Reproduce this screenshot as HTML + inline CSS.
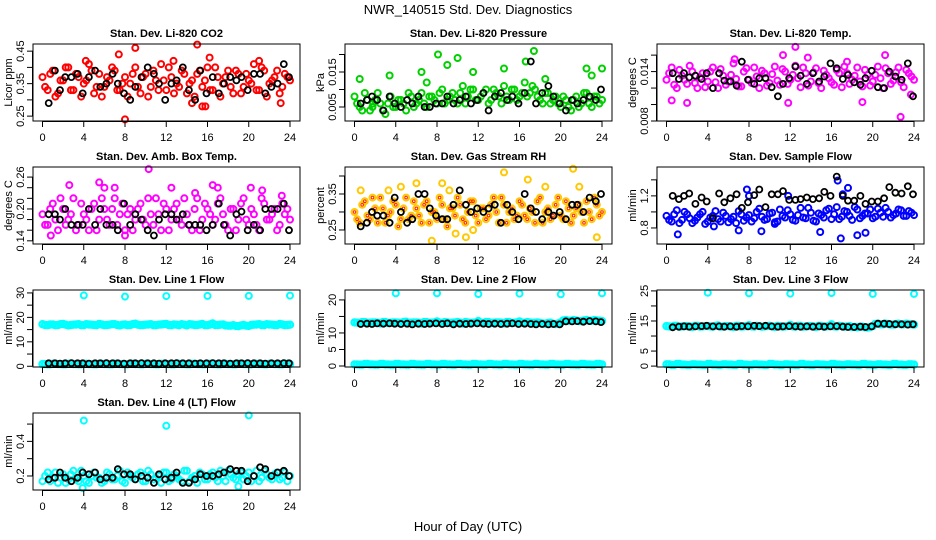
<!DOCTYPE html>
<html><head><meta charset="utf-8"><style>
body{margin:0;background:#fff;}
svg{display:block;font-family:"Liberation Sans",Arial,sans-serif;}
</style></head><body>
<svg id="c" width="936" height="540" viewBox="0 0 936 540" xmlns="http://www.w3.org/2000/svg">
<rect width="936" height="540" fill="#fff"/>
<text x="468" y="14" font-size="13" text-anchor="middle">NWR_140515  Std. Dev. Diagnostics</text>
<text x="468" y="531" font-size="13" text-anchor="middle">Hour of Day (UTC)</text>
</svg>
<script>
const H49=[0,0.5,1,1.5,2,2.5,3,3.5,4,4.5,5,5.5,6,6.5,7,7.5,8,8.5,9,9.5,10,10.5,11,11.5,12,12.5,13,13.5,14,14.5,15,15.5,16,16.5,17,17.5,18,18.5,19,19.5,20,20.5,21,21.5,22,22.5,23,23.5,24];
const H48=[0.25,0.75,1.25,1.75,2.25,2.75,3.25,3.75,4.25,4.75,5.25,5.75,6.25,6.75,7.25,7.75,8.25,8.75,9.25,9.75,10.25,10.75,11.25,11.75,12.25,12.75,13.25,13.75,14.25,14.75,15.25,15.75,16.25,16.75,17.25,17.75,18.25,18.75,19.25,19.75,20.25,20.75,21.25,21.75,22.25,22.75,23.25,23.75];
const BH=[0.6,1.2,1.7,2.2,2.8,3.4,3.9,4.5,5.1,5.6,6.2,6.8,7.3,7.9,8.5,9.0,9.6,10.2,10.8,11.3,11.9,12.5,13.0,13.6,14.2,14.8,15.3,15.9,16.5,17.1,17.6,18.2,18.8,19.3,19.9,20.5,21.1,21.6,22.2,22.8,23.4,23.9];
const xTicks=[0,4,8,12,16,20,24];

const co2=[0.37,0.33,0.39,0.32,0.36,0.40,0.33,0.37,0.35,0.41,0.32,0.38,0.34,0.36,0.39,0.33,0.37,0.35,0.40,0.32,0.38,0.34,0.36,0.41,0.33,0.37,0.35,0.39,0.32,0.36,0.38,0.34,0.40,0.33,0.37,0.35,0.39,0.32,0.38,0.34,0.36,0.41,0.33,0.39,0.35,0.37,0.32,0.38,0.36];
const co2b=[0.34,0.38,0.31,0.36,0.40,0.33,0.38,0.31,0.36,0.39,0.34,0.31,0.37,0.40,0.33,0.35,0.31,0.38,0.34,0.37,0.31,0.39,0.33,0.36,0.40,0.32,0.34,0.38,0.35,0.31,0.39,0.36,0.33,0.40,0.31,0.37,0.34,0.39,0.32,0.38,0.35,0.33,0.40,0.31,0.36,0.39,0.34,0.37];
const co2OutH=[7.4,9,8,15,15.8,16.2,15.5,4.2,21,12.7,14.5,23.1];
const co2Out=[0.44,0.46,0.24,0.47,0.28,0.43,0.28,0.42,0.42,0.42,0.29,0.29];
const co2Blk=[0.29,0.39,0.33,0.37,0.37,0.38,0.32,0.37,0.39,0.34,0.35,0.38,0.35,0.32,0.30,0.34,0.37,0.40,0.38,0.35,0.30,0.35,0.36,0.40,0.33,0.30,0.39,0.32,0.37,0.32,0.35,0.37,0.36,0.37,0.33,0.38,0.38,0.32,0.34,0.35,0.41,0.37];

const pres=[0.008,0.005,0.009,0.004,0.007,0.006,0.003,0.008,0.005,0.007,0.004,0.008,0.006,0.009,0.005,0.008,0.006,0.010,0.007,0.009,0.006,0.011,0.008,0.010,0.007,0.009,0.006,0.010,0.008,0.011,0.007,0.010,0.008,0.012,0.009,0.010,0.007,0.009,0.006,0.008,0.005,0.007,0.004,0.008,0.006,0.009,0.005,0.008,0.007];
const presb=[0.006,0.004,0.007,0.005,0.009,0.004,0.006,0.005,0.007,0.006,0.009,0.005,0.007,0.006,0.008,0.007,0.009,0.006,0.008,0.007,0.009,0.006,0.010,0.007,0.008,0.010,0.007,0.009,0.006,0.008,0.010,0.007,0.009,0.008,0.011,0.008,0.006,0.009,0.007,0.006,0.008,0.005,0.007,0.005,0.009,0.006,0.008,0.006];
const presOutH=[0.5,3.4,7.0,8.1,9.0,10.0,11.5,14.5,16.6,17.4,22.5,24,23,18.5,6.5,1.8];
const presOut=[0.013,0.014,0.012,0.020,0.017,0.019,0.015,0.016,0.018,0.021,0.016,0.016,0.014,0.013,0.015,0.006];
const presBlk=[0.006,0.007,0.008,0.007,0.004,0.008,0.006,0.005,0.007,0.006,0.008,0.005,0.005,0.006,0.006,0.008,0.006,0.007,0.008,0.006,0.007,0.009,0.004,0.008,0.009,0.007,0.008,0.006,0.009,0.018,0.006,0.009,0.011,0.008,0.006,0.004,0.007,0.006,0.007,0.008,0.007,0.010];

const tmp=[0.013,0.0145,0.012,0.0135,0.0125,0.014,0.012,0.0138,0.0128,0.0145,0.012,0.0135,0.0128,0.015,0.0122,0.014,0.013,0.0145,0.012,0.0138,0.0126,0.0146,0.0124,0.014,0.013,0.0147,0.0121,0.0138,0.0128,0.0144,0.012,0.0136,0.0127,0.0142,0.0121,0.0138,0.013,0.0145,0.0122,0.0136,0.0128,0.0146,0.012,0.0138,0.0129,0.0145,0.0121,0.0138,0.013];
const tmpb=[0.0138,0.0124,0.0142,0.0130,0.0147,0.0126,0.0133,0.0121,0.0140,0.0127,0.0143,0.0124,0.0136,0.0131,0.0122,0.0144,0.0126,0.0134,0.0141,0.0123,0.0137,0.0129,0.0143,0.0125,0.0136,0.0132,0.0145,0.0123,0.0139,0.0126,0.0141,0.0132,0.0124,0.0138,0.0146,0.0125,0.0135,0.0128,0.0142,0.0123,0.0136,0.0132,0.0144,0.0125,0.0139,0.0127,0.0142,0.0134];
const tmpOutH=[0.5,2.0,6.6,11.3,11.8,13.7,12.5,21.2,17.5,22.7,23.7,19.0];
const tmpOut=[0.0105,0.0102,0.0155,0.016,0.0102,0.0157,0.0170,0.0160,0.0152,0.0085,0.0112,0.0103];
const tmpBlk=[0.0138,0.0131,0.0138,0.0133,0.0135,0.0131,0.0138,0.0120,0.0138,0.0129,0.0128,0.0123,0.0152,0.0130,0.0125,0.0132,0.0132,0.0121,0.0110,0.0125,0.0132,0.0146,0.0135,0.0125,0.0138,0.0128,0.0134,0.0150,0.0144,0.0131,0.0136,0.0127,0.0124,0.0132,0.0141,0.0121,0.0120,0.0140,0.0134,0.0130,0.0150,0.0110];

const amb=[0.19,0.17,0.21,0.16,0.20,0.18,0.22,0.17,0.19,0.16,0.21,0.18,0.20,0.17,0.22,0.19,0.16,0.20,0.18,0.21,0.17,0.19,0.22,0.16,0.20,0.18,0.21,0.17,0.19,0.16,0.22,0.18,0.20,0.17,0.21,0.19,0.16,0.20,0.18,0.22,0.17,0.19,0.16,0.21,0.18,0.20,0.17,0.19,0.18];
const ambb=[0.17,0.20,0.18,0.22,0.17,0.19,0.16,0.21,0.18,0.20,0.16,0.22,0.18,0.20,0.17,0.21,0.19,0.16,0.20,0.18,0.22,0.17,0.19,0.21,0.16,0.20,0.18,0.22,0.17,0.20,0.16,0.21,0.19,0.18,0.22,0.17,0.20,0.16,0.21,0.18,0.20,0.17,0.22,0.18,0.19,0.16,0.21,0.20];
const ambOutH=[2.6,5.5,6.0,7.0,10.3,12.5,14.8,16.5,17.0,20.2,21.3,23.2,8.0,0.8];
const ambOut=[0.245,0.25,0.24,0.24,0.275,0.24,0.23,0.245,0.24,0.24,0.235,0.225,0.15,0.15];
const ambBlk=[0.19,0.19,0.18,0.20,0.17,0.17,0.17,0.20,0.17,0.20,0.17,0.17,0.16,0.21,0.17,0.19,0.18,0.16,0.15,0.18,0.19,0.19,0.18,0.19,0.17,0.17,0.17,0.16,0.17,0.21,0.17,0.15,0.19,0.195,0.16,0.17,0.16,0.20,0.20,0.20,0.21,0.16];

const rh=[0.30,0.27,0.33,0.28,0.31,0.34,0.27,0.30,0.32,0.28,0.34,0.29,0.31,0.27,0.33,0.30,0.28,0.32,0.26,0.31,0.34,0.28,0.30,0.33,0.27,0.31,0.29,0.34,0.27,0.32,0.30,0.28,0.33,0.29,0.31,0.27,0.34,0.30,0.28,0.32,0.29,0.33,0.27,0.31,0.30,0.33,0.28,0.32,0.30];
const rhb=[0.28,0.32,0.29,0.34,0.27,0.31,0.29,0.33,0.26,0.31,0.28,0.33,0.29,0.32,0.27,0.30,0.34,0.28,0.31,0.29,0.32,0.27,0.33,0.29,0.31,0.28,0.32,0.30,0.34,0.27,0.31,0.29,0.32,0.28,0.30,0.33,0.27,0.31,0.29,0.34,0.28,0.31,0.29,0.32,0.27,0.30,0.34,0.29];
const rhOutH=[0.6,3.3,4.5,6.0,8.5,7.5,9.2,10.8,11.5,14.5,16.8,18.5,21.2,21.8,23.5,9.8];
const rhOut=[0.36,0.36,0.37,0.38,0.38,0.22,0.36,0.23,0.25,0.41,0.39,0.37,0.42,0.37,0.23,0.24];
const rhBlk=[0.26,0.27,0.30,0.29,0.29,0.27,0.34,0.30,0.27,0.28,0.35,0.35,0.31,0.29,0.28,0.28,0.32,0.36,0.32,0.30,0.31,0.30,0.31,0.32,0.27,0.32,0.30,0.28,0.35,0.31,0.30,0.28,0.30,0.29,0.30,0.28,0.32,0.32,0.30,0.34,0.33,0.35];

const sf=[0.95,0.88,1.02,0.90,0.97,0.86,0.93,1.00,0.88,0.95,0.91,0.99,0.87,0.94,1.01,0.89,0.96,0.92,1.04,0.90,0.98,0.87,1.03,0.93,0.97,0.89,1.05,0.92,0.99,0.88,0.96,1.02,0.91,1.06,0.94,1.00,0.90,1.03,0.95,0.98,0.92,1.04,0.94,1.00,0.96,1.03,0.95,1.01,0.96];
const sfb=[0.90,0.97,0.86,1.00,0.92,0.89,0.97,0.85,0.93,1.01,0.88,0.95,0.91,0.86,0.97,0.93,0.88,1.00,0.94,0.91,0.99,0.88,0.95,1.02,0.90,0.96,0.93,1.05,0.89,0.98,0.93,1.04,0.97,0.91,1.01,0.95,1.06,0.92,0.98,1.03,0.94,0.99,1.05,0.93,0.98,1.02,0.95,0.99];
const sfOutH=[1.1,4.6,7.8,8.0,9.2,10.5,14.9,16.6,17.1,16.9,17.6,18.5,19.3,7.0,11.8];
const sfOut=[0.72,0.82,1.28,1.20,0.76,0.85,0.75,1.39,1.22,0.67,1.30,0.71,0.74,0.77,1.20];
const sfBlk=[1.20,1.16,1.20,1.23,1.10,1.18,1.13,0.92,1.23,1.12,1.17,1.22,1.05,1.12,1.21,1.28,1.06,1.22,1.22,1.26,1.15,1.15,1.16,1.18,1.16,1.17,1.25,1.20,1.44,1.20,1.14,1.14,1.20,1.10,1.13,1.13,1.17,1.31,1.24,1.23,1.32,1.22];

const l1=[17.2,16.8,17.1,16.9,17.3,16.7,17.0,17.2,16.8,17.1,16.9,17.3,16.8,17.0,17.2,16.7,17.1,16.9,17.4,16.8,17.0,17.2,16.8,17.1,17.3,16.8,17.0,17.2,16.7,17.1,16.9,17.3,16.8,17.5,16.9,17.1,16.6,16.8,16.4,16.9,16.5,17.0,17.2,16.8,17.1,16.9,17.3,16.8,17.0];
const l1b=[16.9,17.1,16.8,17.2,17.0,16.9,17.1,16.8,17.2,17.0,16.8,17.1,16.9,17.2,16.9,17.0,16.8,17.2,17.0,16.9,17.1,16.8,17.0,17.2,16.9,17.1,16.8,17.0,17.2,16.9,17.1,16.8,17.1,16.9,17.0,16.7,16.6,16.5,16.7,16.6,16.9,17.1,16.9,17.2,17.0,16.8,17.1,16.9];
const l1Low=[0.9,0.8,1.0,0.9,0.8,1.0,0.9,0.8,1.0,0.9,0.8,1.0,0.9,0.8,1.0,0.9,0.8,1.0,0.9,0.8,1.0,0.9,0.8,1.0,0.9,0.8,1.0,0.9,0.8,1.0,0.9,0.8,1.0,0.9,0.8,1.0,0.9,0.8,1.0,0.9,0.8,1.0,0.9,0.8,1.0,0.9,0.8,1.0,0.9];
const l1OutH=[4,8,12,16,20,24];
const l1Out=[29,28.5,28.7,28.8,28.8,28.9];
const l1Blk=[1.2,1.2,1.1,1.2,1.3,1.2,1.2,1.1,1.2,1.2,1.3,1.2,1.2,1.1,1.2,1.2,1.3,1.2,1.2,1.1,1.2,1.2,1.3,1.2,1.2,1.1,1.2,1.2,1.3,1.2,1.2,1.1,1.2,1.2,1.3,1.2,1.2,1.1,1.2,1.2,1.3,1.2];

const l2=[13.2,13.0,13.3,13.1,13.2,12.9,13.3,13.1,13.2,13.0,13.4,13.1,13.2,12.9,13.3,13.1,13.5,13.0,13.2,13.1,13.3,12.9,13.2,13.1,13.6,13.0,13.3,13.1,13.2,12.9,13.3,13.1,13.5,13.0,13.2,13.1,13.0,12.8,13.1,12.7,13.2,13.9,13.7,13.8,13.6,13.9,13.7,13.8,13.6];
const l2b=[13.1,13.3,13.0,13.2,13.1,13.3,13.0,13.2,13.1,13.3,13.0,13.2,13.1,13.3,13.0,13.2,13.1,13.3,13.0,13.2,13.1,13.3,13.0,13.2,13.1,13.3,13.0,13.2,13.1,13.3,13.0,13.2,13.1,13.3,13.0,13.2,12.9,13.0,12.8,12.9,13.8,13.7,13.9,13.6,13.8,13.7,13.9,13.7];
const l2Low=[0.5,0.4,0.6,0.5,0.4,0.6,0.5,0.4,0.6,0.5,0.4,0.6,0.5,0.4,0.6,0.5,0.4,0.6,0.5,0.4,0.6,0.5,0.4,0.6,0.5,0.4,0.6,0.5,0.4,0.6,0.5,0.4,0.6,0.5,0.4,0.6,0.5,0.4,0.6,0.5,0.4,0.6,0.5,0.4,0.6,0.5,0.4,0.6,0.5];
const l2OutH=[4,8,12,16,20,24];
const l2Out=[22,22,21.8,21.9,21.7,22];
const l2Blk=[12.7,12.8,12.7,12.9,12.8,12.9,12.8,12.7,12.8,12.6,12.8,12.7,12.8,12.9,12.7,12.9,12.6,12.8,12.7,12.8,12.9,12.8,12.7,12.8,12.7,12.8,12.9,12.7,12.8,12.7,12.6,12.7,12.6,12.7,12.6,13.5,13.5,13.6,13.4,13.6,13.5,13.3];

const l3=[13.3,13.1,13.4,13.2,13.3,13.0,13.4,13.2,13.3,13.1,13.5,13.2,13.3,13.0,13.4,13.2,13.6,13.1,13.3,13.2,13.4,13.0,13.3,13.2,13.7,13.1,13.4,13.2,13.3,13.0,13.4,13.2,13.9,13.1,13.3,13.2,13.0,12.9,13.1,12.8,13.3,14.1,13.9,14.0,13.8,14.1,13.9,14.0,13.8];
const l3b=[13.2,13.4,13.1,13.3,13.2,13.4,13.1,13.3,13.2,13.4,13.1,13.3,13.2,13.4,13.1,13.3,13.2,13.4,13.1,13.3,13.2,13.4,13.1,13.3,13.2,13.4,13.1,13.3,13.2,13.4,13.1,13.3,13.2,13.4,13.1,13.3,13.0,13.1,12.9,13.0,14.0,13.9,14.1,13.8,14.0,13.9,14.1,13.9];
const l3Low=[0.6,0.4,0.7,0.5,0.4,0.6,0.5,0.4,0.7,0.5,0.4,0.6,0.5,0.4,0.7,0.5,0.4,0.6,0.5,0.4,0.7,0.5,0.4,0.6,0.5,0.4,0.7,0.5,0.4,0.6,0.5,0.4,0.7,0.5,0.4,0.6,0.5,0.4,0.7,0.5,0.4,0.6,0.5,0.4,0.7,0.5,0.4,0.6,0.5];
const l3OutH=[4,8,12,16,20,24];
const l3Out=[24.4,24.2,24.1,24.3,24.0,24.0];
const l3Blk=[12.9,13.1,13.2,13.1,13.2,13.3,13.4,13.2,13.2,13.1,13.2,13.1,13.3,13.2,13.4,13.3,13.4,13.2,13.1,13.2,13.3,13.2,13.1,13.2,13.1,13.2,13.1,13.2,13.3,13.1,13.0,13.0,13.1,13.0,13.2,14.1,14.1,14.0,13.9,13.9,13.8,13.9];

const l4=[0.17,0.22,0.19,0.16,0.21,0.18,0.23,0.17,0.20,0.16,0.22,0.19,0.17,0.21,0.18,0.23,0.16,0.20,0.18,0.22,0.17,0.21,0.19,0.16,0.22,0.18,0.20,0.17,0.23,0.19,0.16,0.21,0.18,0.22,0.17,0.20,0.23,0.19,0.21,0.18,0.22,0.20,0.17,0.23,0.19,0.21,0.18,0.22,0.20];
const l4b=[0.20,0.17,0.22,0.19,0.16,0.21,0.18,0.23,0.17,0.20,0.19,0.16,0.22,0.18,0.20,0.17,0.22,0.19,0.21,0.17,0.23,0.18,0.20,0.22,0.17,0.21,0.18,0.23,0.17,0.20,0.22,0.18,0.21,0.19,0.23,0.17,0.21,0.18,0.22,0.20,0.17,0.23,0.19,0.21,0.18,0.22,0.19,0.17];
const l4OutH=[4,12,20,3.9,19];
const l4Out=[0.52,0.49,0.55,0.13,0.14];
const l4Blk=[0.18,0.19,0.22,0.19,0.17,0.19,0.22,0.21,0.22,0.18,0.19,0.19,0.24,0.21,0.21,0.18,0.20,0.19,0.16,0.21,0.18,0.19,0.22,0.16,0.16,0.18,0.21,0.20,0.20,0.21,0.22,0.24,0.23,0.23,0.17,0.20,0.25,0.24,0.20,0.22,0.23,0.20];

const NS="http://www.w3.org/2000/svg";
const svg=document.getElementById('c');
function mk(tag,attrs,parent){const e=document.createElementNS(NS,tag);for(const k in attrs)e.setAttribute(k,attrs[k]);(parent||svg).appendChild(e);return e;}

const colL=[33,345,657], rowT=[44,167,290,413], PW=267, PH=77;
const panels=[
 {id:'co2',title:'Stan. Dev. Li-820 CO2',yl:'Licor ppm',c:0,r:0,dom:[0.235,0.472],ticks:[0.25,0.30,0.35,0.40,0.45],labs:['0.25','','0.35','','0.45'],col:'#ff0000',main:co2,mainb:co2b,low:null,oh:co2OutH,ov:co2Out,blk:co2Blk},
 {id:'pressure',title:'Stan. Dev. Li-820 Pressure',yl:'kPa',c:1,r:0,dom:[0.001,0.023],ticks:[0.005,0.010,0.015,0.020],labs:['0.005','','0.015',''],col:'#00d000',main:pres,mainb:presb,low:null,oh:presOutH,ov:presOut,blk:presBlk},
 {id:'temp',title:'Stan. Dev. Li-820 Temp.',yl:'degrees C',c:2,r:0,dom:[0.008,0.01735],ticks:[0.008,0.010,0.012,0.014,0.016],labs:['0.008','','','0.014',''],col:'#ff00ff',main:tmp,mainb:tmpb,low:null,oh:tmpOutH,ov:tmpOut,blk:tmpBlk},
 {id:'amb-box-temp',title:'Stan. Dev. Amb. Box Temp.',yl:'degrees C',c:0,r:1,dom:[0.134,0.279],ticks:[0.14,0.16,0.18,0.20,0.22,0.24,0.26],labs:['0.14','','','0.20','','','0.26'],col:'#ff00ff',main:amb,mainb:ambb,low:null,oh:ambOutH,ov:ambOut,blk:ambBlk},
 {id:'gas-rh',title:'Stan. Dev. Gas Stream RH',yl:'percent',c:1,r:1,dom:[0.211,0.425],ticks:[0.25,0.30,0.35,0.40],labs:['0.25','','0.35',''],col:'#ffc800',main:rh,mainb:rhb,low:null,oh:rhOutH,ov:rhOut,blk:rhBlk},
 {id:'sample-flow',title:'Stan. Dev. Sample Flow',yl:'ml/min',c:2,r:1,dom:[0.6,1.56],ticks:[0.8,1.0,1.2,1.4],labs:['0.8','','1.2',''],col:'#0000ff',main:sf,mainb:sfb,low:null,oh:sfOutH,ov:sfOut,blk:sfBlk},
 {id:'line1',title:'Stan. Dev. Line 1 Flow',yl:'ml/min',c:0,r:2,dom:[-0.3,31.2],ticks:[0,5,10,15,20,25,30],labs:['0','','10','','20','','30'],col:'#00ffff',main:l1,mainb:l1b,low:l1Low,oh:l1OutH,ov:l1Out,blk:l1Blk},
 {id:'line2',title:'Stan. Dev. Line 2 Flow',yl:'ml/min',c:1,r:2,dom:[-0.3,23],ticks:[0,5,10,15,20],labs:['0','5','10','','20'],col:'#00ffff',main:l2,mainb:l2b,low:l2Low,oh:l2OutH,ov:l2Out,blk:l2Blk},
 {id:'line3',title:'Stan. Dev. Line 3 Flow',yl:'ml/min',c:2,r:2,dom:[-0.3,25.3],ticks:[0,5,10,15,20,25],labs:['0','5','','15','','25'],col:'#00ffff',main:l3,mainb:l3b,low:l3Low,oh:l3OutH,ov:l3Out,blk:l3Blk},
 {id:'line4',title:'Stan. Dev. Line 4 (LT) Flow',yl:'ml/min',c:0,r:3,dom:[0.119,0.564],ticks:[0.2,0.3,0.4,0.5],labs:['0.2','','0.4',''],col:'#00ffff',main:l4,mainb:l4b,low:null,oh:l4OutH,ov:l4Out,blk:l4Blk}
];

panels.forEach(p=>{
  const L=colL[p.c], T=rowT[p.r];
  const xs=h=>L+9.5+h*(247.5/24);
  const ys=v=>T+PH-(v-p.dom[0])/(p.dom[1]-p.dom[0])*PH;
  const g=mk('g',{});
  
  
  const t=mk('text',{x:L+PW/2,y:T-7,'font-size':11,'font-weight':'bold','text-anchor':'middle'},g);
  t.textContent=p.title;
  
  
  const pts=mk('g',{fill:'none'},g);
  
  
  function dot(h,v,col,sw,r){const c=mk('circle',{cx:xs(h).toFixed(1),cy:ys(v).toFixed(1),r:r,stroke:col,'stroke-width':sw},pts);
    
    }
  const sw=p.low?2.4:2;
  if(p.low){p.low.forEach((v,i)=>dot(H49[i],v,p.col,sw,3)); p.low.forEach((v,i)=>{if(i<48)dot(H48[i],v,p.col,sw,3);});}
  p.main.forEach((v,i)=>dot(H49[i],v,p.col,sw,3));
  p.mainb.forEach((v,i)=>dot(H48[i],v,p.col,sw,3));
  if(p.id==='gas-rh'){p.main.forEach((v,i)=>dot(H49[i],v,'#ff2000',1,1.3));p.mainb.forEach((v,i)=>dot(H48[i],v,'#ff2000',1,1.3));}
  p.oh.forEach((h,i)=>dot(h,p.ov[i],p.col,2,3));
  p.blk.forEach((v,i)=>dot(BH[i],v,'#000',1.8,3));
  const box=mk('rect',{x:L,y:T,width:PW,height:PH,fill:'none',stroke:'#000','stroke-width':1},g);
  
  
  const xa=mk('g',{},g);
  
  
  mk('line',{x1:xs(0),x2:xs(24),y1:T+PH+0.5,y2:T+PH+0.5,stroke:'#000'},xa);
  xTicks.forEach(h=>{
    mk('line',{x1:xs(h),x2:xs(h),y1:T+PH,y2:T+PH+6,stroke:'#000'},xa);
    const tx=mk('text',{x:xs(h),y:T+PH+20,'font-size':11,'text-anchor':'middle'},xa);
    tx.textContent=h;
  });
  const ya=mk('g',{},g);
  
  
  const t0=p.ticks[0], t1=p.ticks[p.ticks.length-1];
  mk('line',{x1:L-0.5,x2:L-0.5,y1:ys(t0),y2:ys(t1),stroke:'#000'},ya);
  p.ticks.forEach((v,i)=>{
    const y=ys(v);
    mk('line',{x1:L,x2:L-6,y1:y,y2:y,stroke:'#000'},ya);
    if(p.labs[i]){const tx=mk('text',{x:0,y:0,'font-size':11,'text-anchor':'middle',transform:`translate(${L-9},${y}) rotate(-90)`},ya);tx.textContent=p.labs[i];}
  });
  const yt=mk('text',{x:0,y:0,'font-size':11,'text-anchor':'middle',transform:`translate(${L-21},${T+PH/2}) rotate(-90)`},g);
  yt.textContent=p.yl;
  
  
});
</script>
</body></html>
